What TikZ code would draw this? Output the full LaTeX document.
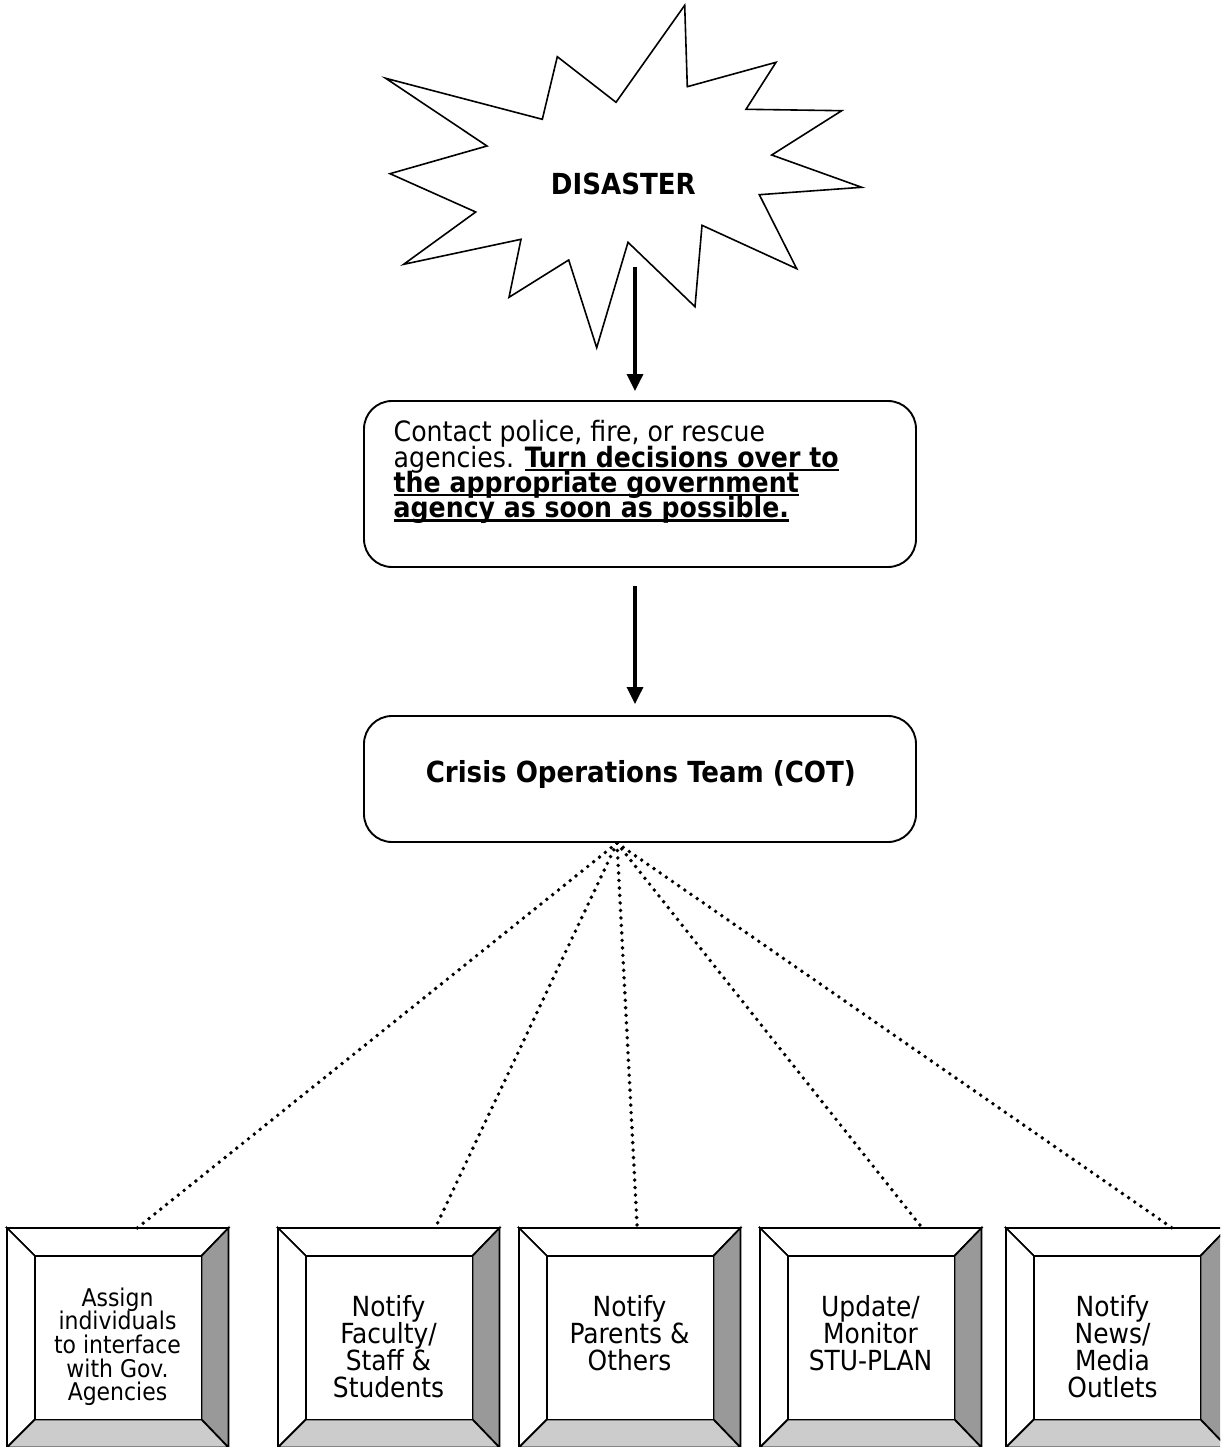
\documentclass[tikz,border=0pt]{standalone}
\usepackage{fontspec}
\setmainfont{DejaVu Sans Condensed}
\usetikzlibrary{arrows.meta,calc}
\newcommand\myul[1]{\setbox0\hbox{#1}\rlap{\rule[-4pt]{\wd0}{2.2pt}}\box0}
\newcommand\bevel[1]{%
  \coordinate (#1onw) at (#1.north west);
  \coordinate (#1one) at (#1.north east);
  \coordinate (#1ose) at (#1.south east);
  \coordinate (#1osw) at (#1.south west);
  \coordinate (#1inw) at ($(#1onw)+(28,28)$);
  \coordinate (#1ine) at ($(#1one)+(-27,28)$);
  \coordinate (#1ise) at ($(#1ose)+(-27,-28)$);
  \coordinate (#1isw) at ($(#1osw)+(28,-28)$);
  \draw[bev, fill=white] (#1onw) -- (#1one) -- (#1ine) -- (#1inw) -- cycle;
  \draw[bev, fill=white] (#1onw) -- (#1inw) -- (#1isw) -- (#1osw) -- cycle;
  \draw[bev, fill=shadedark] (#1one) -- (#1ose) -- (#1ise) -- (#1ine) -- cycle;
  \draw[bev, fill=shadelight] (#1osw) -- (#1ose) -- (#1ise) -- (#1isw) -- cycle;
  \draw[bev, fill=white] (#1inw) rectangle (#1ise);
}
\definecolor{shadedark}{HTML}{999999}
\definecolor{shadelight}{HTML}{CCCCCC}
\begin{document}
\lineskiplimit=-100pt
\lineskip=0pt
\begin{tikzpicture}[x=1pt,y=-1pt,
  every node/.append style={execute at begin node={\lineskiplimit=-100pt\lineskip=0pt}},
  bev/.style={draw=black, line width=1.7pt, line join=miter},
  rbox/.style={draw, line width=1.9pt, rounded corners=28pt, minimum width=552pt, inner sep=0pt},
  obox/.style={draw=none, minimum width=221pt, minimum height=219pt, inner sep=0pt, anchor=north west},
  arr/.style={line width=3.3pt, -{Triangle[length=17pt,width=16pt]}},
  dots/.style={line width=3.9pt, line cap=round, dash pattern=on 0pt off 7.5pt},
  small/.style={inner sep=0pt, align=center, anchor=north, font=\fontsize{24.4}{23.6}\selectfont},
  big/.style={inner sep=0pt, align=center, anchor=north, font=\fontsize{27.7}{27}\selectfont},
]
\useasboundingbox (0,0) rectangle (1220,1447);
\clip (0,0) rectangle (1220,1447);
\fill[white] (0,0) rectangle (1220,1447);

% star
\draw[line width=1.6pt, line join=miter, miter limit=20]
 (385.7,78.3) -- (542.3,119.3) -- (557.3,56.7) -- (616,102.3) -- (684.7,5.3)
 -- (687.3,86.7) -- (776,62.3) -- (746,109.3) -- (841.7,110.7) -- (771.7,155)
 -- (861.7,187.3) -- (759.3,194.7) -- (796.7,268.7) -- (702,225.3) -- (695,306.7)
 -- (628,242.3) -- (596.7,347.7) -- (568.7,260) -- (509,297.3) -- (521,239.3)
 -- (403.7,264.3) -- (475.7,212) -- (390,173.7) -- (487,146) -- cycle;
\node[inner sep=0pt, anchor=base, font=\bfseries\fontsize{29}{30}\selectfont] (dis) at (623.4,195) {DISASTER};

% boxes
\node[rbox, minimum height=166pt] (c1) at (640,484) {};
\node[inner sep=0pt, anchor=north west, align=left, font=\fontsize{28}{25.2}\selectfont] (t1) at (393.5,420.5)
 {Contact police, fire, or rescue\\
  agencies. \myul{\bfseries Turn decisions over to}\\
  \myul{\bfseries the appropriate government}\\
  \myul{\bfseries agency as soon as possible.}};
\node[rbox, minimum height=126pt] (c2) at (640,779) {};
\node[inner sep=0pt, anchor=base, font=\bfseries\fontsize{29}{30}\selectfont] (t2) at (640.8,782) {Crisis Operations Team (COT)};

% arrows
\coordinate (a1s) at (635,267);
\draw[arr, shorten >=9pt] (a1s) -- (a1s |- c1.north);
\draw[arr, shorten <=18pt, shorten >=11pt] (c1.south -| a1s) -- (c2.north -| a1s);

% bottom boxes
\node[obox] (bA) at (7,1228) {};
\node[obox] (bB) at (278,1228) {};
\node[obox] (bC) at (519,1228) {};
\node[obox] (bD) at (760,1228) {};
\node[obox] (bE) at (1006,1228) {};
\bevel{bA}
\bevel{bB}
\bevel{bC}
\bevel{bD}
\bevel{bE}

\node[small] (tA) at (117.5,1287.5) {Assign\\individuals\\to interface\\with Gov.\\Agencies};
\node[big] (tB) at (388.5,1295) {Notify\\Faculty/\\Staff \&\\Students};
\node[big] (tC) at (629.5,1295) {Notify\\Parents \&\\Others};
\node[big] (tD) at (870.5,1295) {Update/\\Monitor\\STU-PLAN};
\node[big] (tE) at (1112.5,1295) {Notify\\News/\\Media\\Outlets};

% dotted connectors
\coordinate (hub) at (617,843);
\draw[dots] (hub) -- ([xshift=19.5pt]bA.north);
\draw[dots] (hub) -- ([xshift=46.5pt]bB.north);
\draw[dots] (hub) -- ([xshift=7.5pt]bC.north);
\draw[dots] (hub) -- ([xshift=51.5pt]bD.north);
\draw[dots] (hub) -- ([xshift=55.5pt]bE.north);
\end{tikzpicture}
\end{document}
